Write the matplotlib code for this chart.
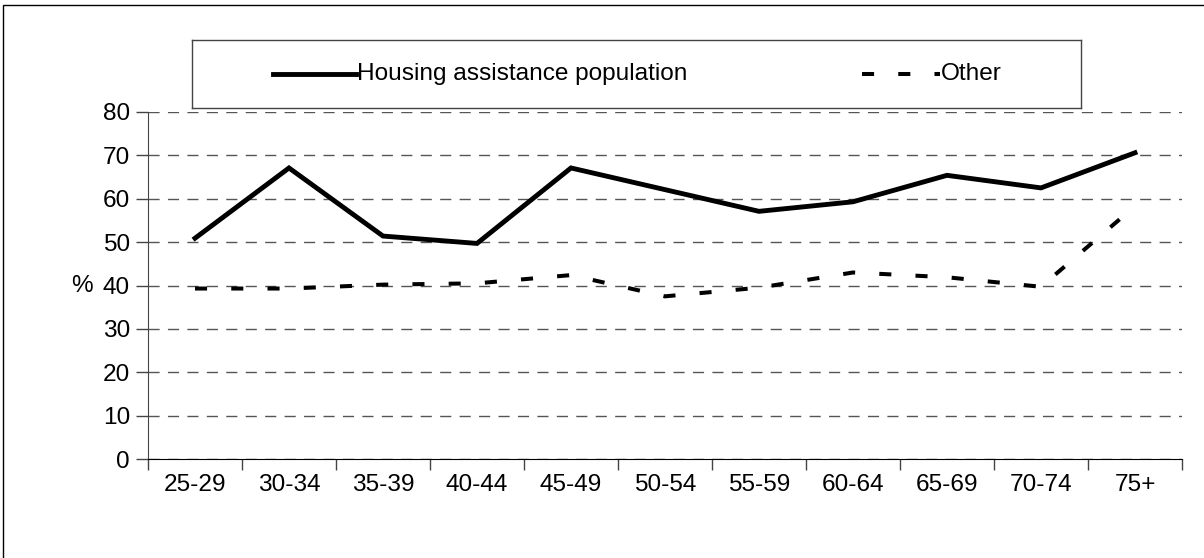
import matplotlib
matplotlib.use("Agg")
import matplotlib.pyplot as plt
from matplotlib.lines import Line2D
from matplotlib.patches import Rectangle

age_groups = ["25-29", "30-34", "35-39", "40-44", "45-49", "50-54",
              "55-59", "60-64", "65-69", "70-74", "75+"]
housing_assistance = [50.9, 67.1, 51.4, 49.7, 67.1, 62.1, 57.1, 59.3, 65.4, 62.5, 70.6]
other = [39.3, 39.3, 40.2, 40.5, 42.4, 37.5, 39.5, 43.0, 41.9, 39.7, 58.3]
y_ticks = [0, 10, 20, 30, 40, 50, 60, 70, 80]

plt.rcParams["font.family"] = ["Liberation Sans", "DejaVu Sans"]
FS = 17.6
SOLID_LW = 3.5
DASH_LW = 2.9

W, H = 1204, 558
fig = plt.figure(figsize=(W / 100, H / 100), dpi=100)

# outer frame of the chart area
fig.add_artist(Rectangle((3 / W, -0.05), 1.2, 1.05 - 5 / H, transform=fig.transFigure,
                         fill=False, edgecolor="black", linewidth=1.0))

ax = fig.add_axes([148 / W, 1 - 459 / H, (1182 - 148) / W, (459 - 112) / H])
x = list(range(len(age_groups)))

ax.plot(x, housing_assistance, color="black", linewidth=SOLID_LW, solid_joinstyle="miter",
        label="Housing assistance population")
ax.plot(x, other, color="black", linewidth=DASH_LW, dashes=(3, 6), dash_capstyle="butt",
        label="Other")

ax.set_xlim(-0.5, len(age_groups) - 0.5)
ax.set_ylim(0, 80)
ax.set_yticks(y_ticks)
ax.yaxis.grid(True, linestyle=(0, (8, 6)), color="#555555", linewidth=1.0)
ax.set_axisbelow(True)

# tick marks between categories, labels centred on categories
ax.set_xticks([i - 0.5 for i in range(len(age_groups) + 1)])
ax.set_xticklabels([])
ax.set_xticks(x, minor=True)
ax.set_xticklabels(age_groups, minor=True)
ax.tick_params(axis="x", which="major", length=8, width=1, color="#444444", direction="out")
ax.tick_params(axis="x", which="minor", length=0, pad=11, labelsize=FS)
ax.tick_params(axis="y", length=9, width=1, color="#444444", labelsize=FS, pad=4)

for side in ("top", "right"):
    ax.spines[side].set_visible(False)
ax.spines["left"].set_color("#444444")
ax.spines["bottom"].set_color("black")

fig.text(93 / W, 1 - 286 / H, "%", ha="right", va="center", fontsize=FS)

# legend in a framed box above the plot
leg_ax = fig.add_axes([192 / W, 1 - 108 / H, (1081 - 192) / W, (108 - 40) / H])
leg_ax.set_xlim(0, 1081 - 192)
leg_ax.set_ylim(0, 1)
leg_ax.set_xticks([])
leg_ax.set_yticks([])
for s in leg_ax.spines.values():
    s.set_color("#444444")
    s.set_linewidth(1.0)
legend_handles = [
    Line2D([273 - 192, 356 - 192], [0.5, 0.5], color="black", linewidth=SOLID_LW),
    Line2D([862 - 192, 940 - 192], [0.5, 0.5], color="black", linewidth=DASH_LW,
           dashes=(3, 6), dash_capstyle="butt"),
]
for h in legend_handles:
    leg_ax.add_line(h)
leg_ax.text(357 - 192, 0.5, "Housing assistance population", va="center", ha="left",
            fontsize=FS)
leg_ax.text(941 - 192, 0.5, "Other", va="center", ha="left", fontsize=FS)

fig.savefig("out.png", dpi=100)
